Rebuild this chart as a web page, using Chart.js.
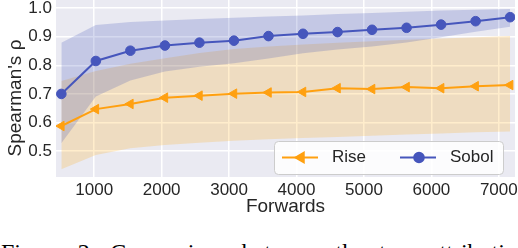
<!DOCTYPE html>
<html>
<head>
<meta charset="utf-8">
<script src="https://cdn.jsdelivr.net/npm/chart.js@4.4.0/dist/chart.umd.min.js"></script>
<style>
  html, body { margin: 0; padding: 0; background: #fff; }
  #wrap { position: relative; width: 518px; height: 248px; overflow: hidden; }
  #myChart { position: absolute; left: 0; top: 0; }
  #caption { position: absolute; left: 1px; top: 240px; font-family: "Liberation Serif", serif; font-size: 24px; line-height: 24px; white-space: nowrap; word-spacing: 8px; color: #000; }
</style>
</head>
<body>
<div id="wrap">
  <canvas id="myChart" width="518" height="218"></canvas>
  <div id="caption">Figure 2: Comparison between the two attribution methods</div>
</div>
<script>
const forwards = [512, 1024, 1536, 2048, 2560, 3072, 3584, 4096, 4608, 5120, 5632, 6144, 6656, 7168];

const sobolMean = [0.700, 0.815, 0.851, 0.869, 0.879, 0.886, 0.902, 0.910, 0.916, 0.924, 0.931, 0.942, 0.954, 0.968];
const sobolUpper = [0.879, 0.941, 0.951, 0.956, 0.962, 0.966, 0.970, 0.974, 0.979, 0.983, 0.987, 0.991, 0.994, 0.997];
const sobolLower = [0.528, 0.691, 0.747, 0.778, 0.795, 0.807, 0.824, 0.842, 0.855, 0.866, 0.880, 0.898, 0.917, 0.935];

const riseMean = [0.588, 0.647, 0.665, 0.687, 0.694, 0.701, 0.705, 0.707, 0.720, 0.717, 0.724, 0.720, 0.727, 0.731];
const riseUpper = [0.745, 0.780, 0.805, 0.825, 0.843, 0.857, 0.866, 0.873, 0.879, 0.884, 0.889, 0.894, 0.898, 0.902];
const riseLower = [0.437, 0.487, 0.510, 0.522, 0.530, 0.537, 0.542, 0.546, 0.550, 0.554, 0.558, 0.562, 0.566, 0.569];

const xTicks = [1000, 2000, 3000, 4000, 5000, 6000, 7000];
const yTicks = [0.5, 0.6, 0.7, 0.8, 0.9, 1.0];

const sobolColor = 'rgb(70, 86, 188)';
const riseColor = 'rgb(255, 160, 16)';
const textColor = '#262626';

const pts = (arr) => forwards.map((x, i) => ({ x: x, y: arr[i] }));

// grey plot background like seaborn darkgrid
const areaBg = {
    id: 'areaBg',
    beforeDraw(chart) {
        const { ctx, chartArea: a } = chart;
        ctx.save();
        ctx.fillStyle = '#eaeaf2';
        ctx.fillRect(a.left, a.top, a.right - a.left, a.bottom - a.top);
        ctx.restore();
    }
};

// legend box in the lower right corner of the plot
const boxLegend = {
    id: 'boxLegend',
    afterDraw(chart) {
        const ctx = chart.ctx;
        const x0 = 274.5, y0 = 141.5, w = 229, h = 33, r = 4;
        ctx.save();
        ctx.beginPath();
        ctx.roundRect(x0, y0, w, h, r);
        ctx.fillStyle = 'rgba(255, 255, 255, 0.85)';
        ctx.fill();
        ctx.strokeStyle = '#cccccc';
        ctx.lineWidth = 1;
        ctx.stroke();

        const cy = 157.5;
        const items = [
            { ds: chart.data.datasets[0], lx: 282, tx: 332 },
            { ds: chart.data.datasets[1], lx: 400, tx: 450 }
        ];
        items.forEach(it => {
            ctx.strokeStyle = it.ds.borderColor;
            ctx.lineWidth = 2;
            ctx.beginPath();
            ctx.moveTo(it.lx, cy);
            ctx.lineTo(it.lx + 36, cy);
            ctx.stroke();
            Chart.helpers.drawPoint(ctx, {
                pointStyle: it.ds.pointStyle,
                rotation: it.ds.pointRotation || 0,
                radius: it.ds.pointRadius,
                borderWidth: 1
            }, it.lx + 19, cy);
            ctx.fillStyle = it.ds.borderColor;
            ctx.fill();
            ctx.fillStyle = textColor;
            ctx.font = '17px "Liberation Sans", Arial, sans-serif';
            ctx.textBaseline = 'middle';
            ctx.fillText(it.ds.label, it.tx, cy);
        });
        ctx.restore();
    }
};

const ctx = document.getElementById('myChart').getContext('2d');

const myChart = new Chart(ctx, {
    type: 'line',
    data: {
        datasets: [{
            label: 'Rise',
            data: pts(riseMean),
            borderColor: riseColor,
            backgroundColor: riseColor,
            borderWidth: 2,
            pointStyle: 'triangle',
            pointRotation: -90,
            pointRadius: 5.5,
            pointBorderWidth: 1,
            fill: false
        },
        {
            label: 'Sobol',
            data: pts(sobolMean),
            borderColor: sobolColor,
            backgroundColor: sobolColor,
            borderWidth: 2,
            pointStyle: 'circle',
            pointRadius: 4.8,
            pointBorderWidth: 1,
            fill: false
        },
        {
            label: 'sobol_hi',
            data: pts(sobolUpper),
            borderColor: 'transparent',
            borderWidth: 0,
            pointRadius: 0,
            backgroundColor: 'rgba(63, 81, 181, 0.22)',
            fill: 3
        },
        {
            label: 'sobol_lo',
            data: pts(sobolLower),
            borderColor: 'transparent',
            borderWidth: 0,
            pointRadius: 0,
            fill: false
        },
        {
            label: 'rise_hi',
            data: pts(riseUpper),
            borderColor: 'transparent',
            borderWidth: 0,
            pointRadius: 0,
            backgroundColor: 'rgba(255, 165, 0, 0.2)',
            fill: 5
        },
        {
            label: 'rise_lo',
            data: pts(riseLower),
            borderColor: 'transparent',
            borderWidth: 0,
            pointRadius: 0,
            fill: false
        }]
    },
    options: {
        responsive: false,
        animation: false,
        events: [],
        layout: { padding: { left: 0, top: 0, bottom: 0, right: 3 }, autoPadding: false },
        elements: {
            line: { tension: 0 }
        },
        scales: {
            x: {
                type: 'linear',
                min: 433,
                max: 7240,
                afterBuildTicks: (scale) => { scale.ticks = xTicks.map(v => ({ value: v })); },
                afterFit: (scale) => { scale.height = 41; scale.paddingLeft = 0; scale.paddingRight = 0; },
                grid: { color: '#ffffff', lineWidth: 1.5, drawTicks: false },
                border: { display: false },
                ticks: {
                    color: textColor,
                    padding: 3,
                    maxRotation: 0,
                    callback: (v) => String(v),
                    font: { family: '"Liberation Sans", Arial, sans-serif', size: 17 }
                },
                title: {
                    display: true,
                    text: 'Forwards',
                    color: textColor,
                    padding: 0,
                    font: { family: '"Liberation Sans", Arial, sans-serif', size: 19 }
                }
            },
            y: {
                min: 0.410,
                max: 1.028,
                afterBuildTicks: (scale) => { scale.ticks = yTicks.map(v => ({ value: v })); },
                afterFit: (scale) => { scale.width = 56; scale.paddingTop = 0; scale.paddingBottom = 0; },
                grid: { color: '#ffffff', lineWidth: 1.5, drawTicks: false },
                border: { display: false },
                ticks: {
                    color: textColor,
                    padding: 4,
                    callback: (v) => v.toFixed(1),
                    font: { family: '"Liberation Sans", Arial, sans-serif', size: 17 }
                },
                title: {
                    display: true,
                    // trailing em space nudges the centred label down a little
                    text: "Spearman's ρ\u2003",
                    color: textColor,
                    padding: { top: 4, bottom: 0 },
                    font: { family: '"Liberation Sans", Arial, sans-serif', size: 19 }
                }
            }
        },
        plugins: {
            legend: { display: false },
            tooltip: { enabled: false },
            filler: { drawTime: 'beforeDatasetsDraw' }
        }
    },
    plugins: [areaBg, boxLegend]
});
</script>
</body>
</html>
